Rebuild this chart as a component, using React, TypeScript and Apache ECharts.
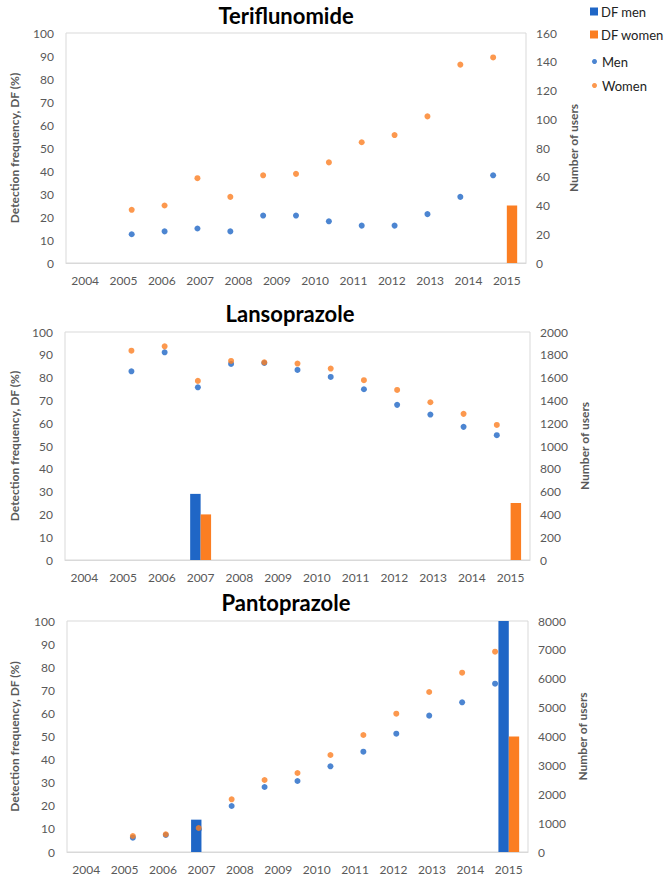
import React, { useEffect, useRef } from "react";
import * as echarts from "echarts";

const years = ["2004", "2005", "2006", "2007", "2008", "2009", "2010", "2011", "2012", "2013", "2014", "2015"];

// Teriflunomide
const teriDFMen = [0, 0, 0, 0, 0, 0, 0, 0, 0, 0, 0, 0];
const teriDFWomen = [0, 0, 0, 0, 0, 0, 0, 0, 0, 0, 0, 25];
const teriMen = [20, 22, 24, 22, 33, 33, 29, 26, 26, 34, 46, 61];
const teriWomen = [37, 40, 59, 46, 61, 62, 70, 84, 89, 102, 138, 143];

// Lansoprazole
const lansoDFMen = [0, 0, 0, 29, 0, 0, 0, 0, 0, 0, 0, 0];
const lansoDFWomen = [0, 0, 0, 20, 0, 0, 0, 0, 0, 0, 0, 25];
const lansoMen = [1655, 1822, 1515, 1720, 1728, 1667, 1606, 1498, 1361, 1276, 1168, 1095];
const lansoWomen = [1836, 1874, 1571, 1746, 1734, 1723, 1679, 1577, 1492, 1384, 1282, 1185];

// Pantoprazole
const pantoDFMen = [0, 0, 0, 14, 0, 0, 0, 0, 0, 0, 0, 100];
const pantoDFWomen = [0, 0, 0, 0, 0, 0, 0, 0, 0, 0, 0, 50];
const pantoMen = [496, 589, 780, 1593, 2251, 2459, 2967, 3475, 4098, 4722, 5183, 5830];
const pantoWomen = [554, 612, 831, 1824, 2494, 2736, 3359, 4052, 4791, 5541, 6211, 6938];

const titles = ["Teriflunomide", "Lansoprazole", "Pantoprazole"];
const userMax = [160, 2000, 8000];
const userStep = [20, 200, 1000];
const dfMax = 100;
const dfStep = 10;

const BLUE = "#1f66c6";
const ORANGE = "#fb7e22";
const GRAY = "#595959";
const FONT = "Lato";

const panels = [
  { dfMen: teriDFMen, dfWomen: teriDFWomen, men: teriMen, women: teriWomen },
  { dfMen: lansoDFMen, dfWomen: lansoDFWomen, men: lansoMen, women: lansoWomen },
  { dfMen: pantoDFMen, dfWomen: pantoDFWomen, men: pantoMen, women: pantoWomen },
];

const gridBoxes = [
  { left: 50, top: 33, width: 476, height: 230, titleX: 286, titleY: 15, gapL: 46, gapR: 34 },
  { left: 51, top: 332, width: 479, height: 228, titleX: 290, titleY: 313, gapL: 45, gapR: 36 },
  { left: 48, top: 621, width: 480, height: 231, titleX: 286, titleY: 602, gapL: 47, gapR: 35 },
];

export default function App() {
  const ref = useRef<HTMLDivElement>(null);
  useEffect(() => {
    if (!ref.current) return;
    const chart = echarts.init(ref.current, null, { renderer: "svg" });

    const grid: any[] = [];
    const xAxis: any[] = [];
    const yAxis: any[] = [];
    const series: any[] = [];
    const graphic: any[] = [];

    panels.forEach((p, i) => {
      const g = gridBoxes[i];
      grid.push({
        left: g.left,
        top: g.top,
        width: g.width,
        height: g.height,
        show: true,
        borderColor: "#d9d9d9",
        borderWidth: 1,
        backgroundColor: "transparent",
      });
      xAxis.push({
        type: "category",
        gridIndex: i,
        data: years,
        boundaryGap: true,
        axisLine: { show: true, lineStyle: { color: "#d9d9d9" } },
        axisTick: { show: false },
        axisLabel: { color: GRAY, fontFamily: FONT, fontSize: 12, margin: 11, interval: 0 },
      });
      xAxis.push({
        type: "value",
        gridIndex: i,
        min: 0,
        max: 14,
        show: false,
        splitLine: { show: false },
      });
      yAxis.push({
        type: "value",
        gridIndex: i,
        min: 0,
        max: dfMax,
        interval: dfStep,
        position: "left",
        name: "Detection frequency, DF (%)",
        nameLocation: "middle",
        nameGap: g.gapL,
        nameRotate: 90,
        nameTextStyle: { color: GRAY, fontFamily: FONT, fontSize: 12, fontWeight: "bold" },
        axisLine: { show: false },
        axisTick: { show: false },
        splitLine: { show: false },
        axisLabel: { color: GRAY, fontFamily: FONT, fontSize: 12, margin: 12 },
      });
      yAxis.push({
        type: "value",
        gridIndex: i,
        min: 0,
        max: userMax[i],
        interval: userStep[i],
        position: "right",
        name: "Number of users",
        nameLocation: "middle",
        nameGap: g.gapR,
        nameRotate: 90,
        nameTextStyle: { color: GRAY, fontFamily: FONT, fontSize: 12, fontWeight: "bold" },
        axisLine: { show: false },
        axisTick: { show: false },
        splitLine: { show: false },
        axisLabel: {
          color: GRAY,
          fontFamily: FONT,
          fontSize: 12,
          margin: 10,
          formatter: (v: number) => String(v),
        },
      });

      const catX = i * 2;
      const valX = i * 2 + 1;
      const leftY = i * 2;
      const rightY = i * 2 + 1;

      series.push({
        name: "DF men",
        type: "bar",
        xAxisIndex: catX,
        yAxisIndex: leftY,
        data: p.dfMen,
        barWidth: "27%",
        barGap: "0%",
        itemStyle: { color: BLUE },
        z: 2,
      });
      series.push({
        name: "DF women",
        type: "bar",
        xAxisIndex: catX,
        yAxisIndex: leftY,
        data: p.dfWomen,
        barWidth: "27%",
        barGap: "0%",
        itemStyle: { color: ORANGE },
        z: 2,
      });
      series.push({
        name: "Men",
        type: "scatter",
        xAxisIndex: valX,
        yAxisIndex: rightY,
        data: p.men.map((v, k) => [k + 2, v]),
        symbol: "circle",
        symbolSize: 6,
        itemStyle: { color: BLUE },
        z: 3,
      });
      series.push({
        name: "Women",
        type: "scatter",
        xAxisIndex: valX,
        yAxisIndex: rightY,
        data: p.women.map((v, k) => [k + 2, v]),
        symbol: "circle",
        symbolSize: 6,
        itemStyle: { color: ORANGE },
        z: 4,
      });

      graphic.push({
        type: "text",
        x: g.titleX,
        y: g.titleY,
        style: {
          text: titles[i],
          fill: "#000",
          font: `bold 22px ${FONT}`,
          textAlign: "center",
          textVerticalAlign: "middle",
        },
      });
    });

    chart.setOption({
      animation: false,
      backgroundColor: "#fff",
      grid,
      xAxis,
      yAxis,
      series,
      graphic,
      legend: [
        {
          data: ["DF men", "DF women"],
          orient: "vertical",
          left: 585,
          top: 0,
          icon: "rect",
          itemWidth: 8,
          itemHeight: 8,
          itemGap: 10,
          textStyle: { color: "#222", fontFamily: FONT, fontSize: 13, padding: [0, 0, 0, -2] },
        },
        {
          data: ["Men", "Women"],
          orient: "vertical",
          left: 587,
          top: 50,
          icon: "circle",
          itemWidth: 5,
          itemHeight: 5,
          itemGap: 11,
          textStyle: { color: "#222", fontFamily: FONT, fontSize: 13 },
        },
      ],
    });
    return () => chart.dispose();
  }, []);

  return (
    <div
      ref={ref}
      style={{ position: "fixed", left: 0, top: 0, width: 667, height: 879, background: "#fff" }}
    />
  );
}
